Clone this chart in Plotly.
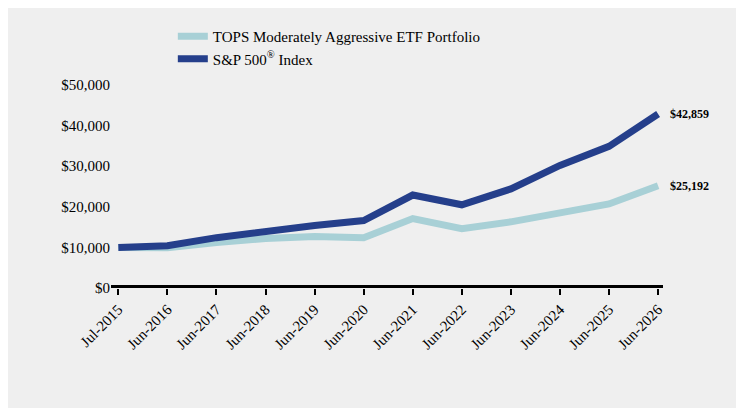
import plotly.graph_objects as go

years = ["Jul-2015", "Jun-2016", "Jun-2017", "Jun-2018", "Jun-2019", "Jun-2020",
         "Jun-2021", "Jun-2022", "Jun-2023", "Jun-2024", "Jun-2025", "Jun-2026"]
tops = [10000, 9900, 11200, 12200, 12700, 12400, 17100, 14600, 16300, 18500, 20700, 25192]
sp500 = [10000, 10400, 12400, 14100, 15400, 16600, 22900, 20500, 24400, 30200, 34900, 42859]

xs = list(range(len(years)))
fig = go.Figure()
fig.add_trace(go.Scatter(x=xs, y=tops, mode="lines", name="TOPS Moderately Aggressive ETF Portfolio",
                         line=dict(color="#a8d0d6", width=7)))
fig.add_trace(go.Scatter(x=xs, y=sp500, mode="lines", name="S&P 500<sup>®</sup> Index",
                         line=dict(color="#253f8b", width=7)))

fig.add_annotation(x=xs[-1], y=sp500[-1], text="<b>$%s</b>" % f"{sp500[-1]:,}", xanchor="left",
                   xshift=10, showarrow=False, font=dict(size=12, color="black"))
fig.add_annotation(x=xs[-1], y=tops[-1], text="<b>$%s</b>" % f"{tops[-1]:,}", xanchor="left",
                   xshift=10, showarrow=False, font=dict(size=12, color="black"))

fig.update_layout(
    width=744, height=408,
    margin=dict(l=103, r=89, t=75, b=128),
    paper_bgcolor="#efefef", plot_bgcolor="#efefef",
    font=dict(family="Liberation Serif, Times New Roman, serif", size=15, color="black"),
    showlegend=True,
    legend=dict(x=0.112, y=1.32, xanchor="left", yanchor="top", bgcolor="rgba(0,0,0,0)",
                font=dict(size=15), tracegroupgap=4),
    xaxis=dict(range=[-0.15, 11.1], tickvals=xs, ticktext=years, tickangle=-45,
               showgrid=False, zeroline=False, showline=False, ticks="outside",
               ticklen=6, tickwidth=2, tickcolor="black", tickfont=dict(size=15)),
    yaxis=dict(range=[0, 50000], tickvals=[0, 10000, 20000, 30000, 40000, 50000],
               tickformat="$,.0f", showgrid=False, zeroline=False, showline=False,
               tickfont=dict(size=15)),
)
fig.add_shape(type="line", xref="paper", yref="y", x0=0, x1=1, y0=0, y1=0,
              line=dict(color="black", width=6), layer="below")

fig.write_html("out.html")
